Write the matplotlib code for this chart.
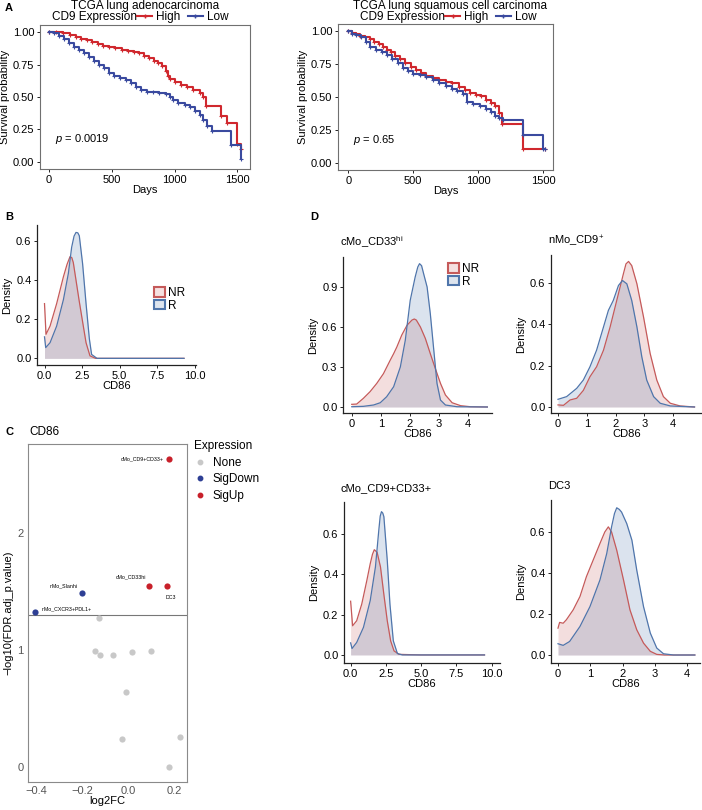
import matplotlib
matplotlib.use("Agg")
import matplotlib.pyplot as plt
from matplotlib.lines import Line2D
from matplotlib.patches import Patch
import numpy as np

plt.rcParams['font.family'] = ['Liberation Sans', 'DejaVu Sans']
plt.rcParams['mathtext.fontset'] = 'custom'
plt.rcParams['mathtext.rm'] = 'Liberation Sans'
plt.rcParams['mathtext.it'] = 'Liberation Sans:italic'

# ---------------- data ----------------
# A: Kaplan-Meier, TCGA LUAD
luad_high_t = [0, 60, 110, 170, 220, 260, 300, 340, 390, 430, 480, 530, 580, 630, 680, 720, 760, 800,
               840, 870, 900, 930, 950, 965, 1000, 1050, 1100, 1150, 1200, 1230, 1250, 1370, 1420, 1500, 1530]
luad_high_s = [1.0, 1.0, 0.99, 0.98, 0.965, 0.95, 0.935, 0.92, 0.905, 0.895, 0.885, 0.875, 0.865, 0.855,
               0.845, 0.835, 0.815, 0.80, 0.78, 0.76, 0.735, 0.70, 0.665, 0.635, 0.615, 0.595, 0.575, 0.555,
               0.53, 0.50, 0.43, 0.35, 0.30, 0.14, 0.10]
luad_low_t = [0, 40, 80, 120, 160, 200, 240, 280, 320, 360, 400, 440, 480, 520, 570, 610, 650, 690, 730,
              780, 830, 880, 930, 960, 990, 1030, 1080, 1120, 1160, 1200, 1230, 1260, 1300, 1445, 1525]
luad_low_s = [1.0, 0.99, 0.97, 0.945, 0.915, 0.885, 0.86, 0.835, 0.81, 0.78, 0.75, 0.72, 0.685, 0.665,
              0.65, 0.63, 0.605, 0.58, 0.555, 0.54, 0.535, 0.53, 0.52, 0.50, 0.48, 0.455, 0.435, 0.42,
              0.39, 0.36, 0.32, 0.28, 0.235, 0.13, 0.02]
# A: Kaplan-Meier, TCGA LUSC
lusc_high_t = [0, 30, 60, 90, 130, 170, 200, 240, 270, 300, 330, 360, 400, 440, 480, 520, 560, 600, 650,
               700, 750, 800, 850, 900, 940, 980, 1020, 1060, 1100, 1130, 1160, 1180, 1345, 1510]
lusc_high_s = [1.0, 0.985, 0.975, 0.965, 0.955, 0.94, 0.92, 0.90, 0.88, 0.86, 0.84, 0.81, 0.785, 0.76,
               0.73, 0.705, 0.68, 0.66, 0.645, 0.63, 0.615, 0.605, 0.58, 0.555, 0.53, 0.515, 0.505, 0.48,
               0.455, 0.43, 0.38, 0.30, 0.11, 0.11]
lusc_low_t = [0, 30, 60, 100, 140, 170, 210, 260, 300, 340, 380, 420, 460, 500, 550, 600, 650, 700, 750,
              800, 840, 880, 910, 960, 1010, 1060, 1100, 1130, 1160, 1190, 1345, 1500, 1510]
lusc_low_s = [1.0, 0.98, 0.97, 0.955, 0.92, 0.88, 0.86, 0.845, 0.82, 0.79, 0.755, 0.72, 0.695, 0.675,
              0.665, 0.65, 0.63, 0.61, 0.585, 0.565, 0.545, 0.52, 0.465, 0.445, 0.43, 0.41, 0.385, 0.36,
              0.345, 0.33, 0.21, 0.105, 0.105]

# B: CD86 density (all cells)
b_nr_x = [0, 0.1, 0.37, 0.81, 1.26, 1.5, 1.7, 1.82, 1.92, 2.14, 2.3, 2.48, 2.77, 3.03, 3.4, 5.0, 7.5, 9.3]
b_nr_y = [0.28, 0.123, 0.165, 0.28, 0.417, 0.48, 0.52, 0.515, 0.49, 0.38, 0.3, 0.215, 0.08, 0.013, 0.0,
          0.0, 0.0, 0.0]
b_r_x = [0, 0.08, 0.37, 0.81, 1.26, 1.59, 1.81, 1.97, 2.1, 2.22, 2.32, 2.54, 2.77, 2.99, 3.14, 3.5,
         5.0, 7.5, 9.3]
b_r_y = [0.11, 0.055, 0.08, 0.165, 0.3, 0.434, 0.568, 0.625, 0.644, 0.642, 0.627, 0.484, 0.28, 0.1, 0.02,
         0.0, 0.0, 0.0, 0.0]

# C: volcano
c_fc = [0.18, 0.091, 0.17, -0.199, -0.404, -0.126, -0.143, -0.122, -0.065, 0.017, 0.099, -0.009, -0.025, 0.225, 0.178]
c_p = [2.63, 1.545, 1.545, 1.487, 1.327, 1.27, 0.99, 0.96, 0.96, 0.98, 0.99, 0.64, 0.24, 0.26, 0.0]
c_grp = ['SigUp', 'SigUp', 'SigUp', 'SigDown', 'SigDown'] + ['None'] * 10
c_lab = ['cMo_CD9+CD33+', 'cMo_CD33hi', 'DC3', 'nMo_Slanhi', 'nMo_CXCR3+PDL1+'] + [''] * 10

# D: CD86 density per subset
tl_nr_x = [0, 0.17, 0.4, 0.63, 0.86, 1.09, 1.32, 1.44, 1.55, 1.72, 1.9, 2.07, 2.15, 2.22, 2.36, 2.53,
           2.7, 2.87, 3.05, 3.22, 3.45, 3.74, 4.08, 4.66]
tl_nr_y = [0.02, 0.022, 0.065, 0.115, 0.177, 0.25, 0.35, 0.4, 0.45, 0.54, 0.613, 0.652, 0.66, 0.652, 0.6,
           0.514, 0.4, 0.29, 0.177, 0.09, 0.032, 0.01, 0.002, 0.0]
tl_r_x = [0, 0.4, 0.75, 0.98, 1.2, 1.44, 1.67, 1.84, 2.01, 2.18, 2.27, 2.33, 2.4, 2.47, 2.59, 2.7, 2.82,
          2.93, 3.05, 3.22, 3.62, 4.66]
tl_r_y = [0.002, 0.005, 0.015, 0.032, 0.077, 0.152, 0.3, 0.5, 0.8, 0.975, 1.05, 1.075, 1.06, 1.0, 0.9,
          0.7, 0.426, 0.177, 0.052, 0.015, 0.002, 0.0]

tr_nr_x = [0, 0.19, 0.42, 0.65, 0.88, 1.11, 1.34, 1.58, 1.81, 2.04, 2.27, 2.36, 2.45, 2.56, 2.74, 2.97,
           3.2, 3.43, 3.66, 3.9, 4.24, 4.74]
tr_nr_y = [0.01, 0.008, 0.034, 0.042, 0.08, 0.146, 0.194, 0.274, 0.386, 0.514, 0.642, 0.69, 0.702, 0.682,
           0.594, 0.434, 0.258, 0.13, 0.05, 0.018, 0.005, 0.0]
tr_r_x = [0, 0.3, 0.65, 0.88, 1.11, 1.34, 1.58, 1.75, 1.92, 2.1, 2.24, 2.39, 2.56, 2.74, 2.91, 3.08,
          3.32, 3.55, 3.9, 4.74]
tr_r_y = [0.037, 0.05, 0.09, 0.13, 0.194, 0.274, 0.386, 0.466, 0.514, 0.586, 0.61, 0.594, 0.514, 0.386,
          0.242, 0.13, 0.05, 0.018, 0.005, 0.0]

bl_nr_x = [0, 0.14, 0.43, 0.79, 1.15, 1.39, 1.55, 1.68, 1.88, 2.12, 2.36, 2.6, 2.84, 3.08, 3.44, 5.0,
           7.5, 9.5]
bl_nr_y = [0.267, 0.145, 0.17, 0.253, 0.37, 0.453, 0.5, 0.523, 0.51, 0.437, 0.30, 0.17, 0.07, 0.02,
           0.003, 0.0, 0.0, 0.0]
bl_r_x = [0, 0.1, 0.43, 0.91, 1.39, 1.76, 2.0, 2.1, 2.19, 2.28, 2.36, 2.6, 2.79, 3.03, 3.32, 3.68, 5.0,
          7.5, 9.5]
bl_r_y = [0.06, 0.032, 0.062, 0.137, 0.27, 0.437, 0.62, 0.69, 0.712, 0.705, 0.687, 0.47, 0.253, 0.07,
          0.007, 0.0, 0.0, 0.0, 0.0]

br_nr_x = [0, 0.05, 0.16, 0.26, 0.47, 0.68, 0.88, 1.09, 1.3, 1.45, 1.56, 1.66, 1.82, 2.03, 2.23, 2.44,
           2.65, 2.86, 3.06, 3.3, 4.24]
br_nr_y = [0.131, 0.159, 0.155, 0.172, 0.22, 0.285, 0.382, 0.463, 0.544, 0.6, 0.625, 0.6, 0.511, 0.366,
           0.22, 0.123, 0.058, 0.018, 0.003, 0.0, 0.0]
br_r_x = [0, 0.16, 0.36, 0.68, 0.99, 1.3, 1.51, 1.66, 1.75, 1.82, 1.9, 1.97, 2.13, 2.29, 2.44, 2.65,
          2.86, 3.06, 3.27, 3.58, 4.24]
br_r_y = [0.055, 0.047, 0.066, 0.139, 0.236, 0.366, 0.495, 0.625, 0.69, 0.718, 0.71, 0.697, 0.641, 0.56,
          0.414, 0.236, 0.107, 0.034, 0.006, 0.0, 0.0]

# ---------------- style ----------------
W, H = 702, 810
RED_KM, BLUE_KM = '#D0282E', '#3A4A9F'
NR_C, R_C = '#C55A5A', '#4F75AB'
PT_C = {'None': '#C8C8C8', 'SigDown': '#2E3F94', 'SigUp': '#C8202A'}
FS = 8

fig = plt.figure(figsize=(W / 100, H / 100), dpi=100)


def px_axes(x0, y0, x1, y1):
    return fig.add_axes([x0 / W, 1 - y1 / H, (x1 - x0) / W, (y1 - y0) / H])


def ftext(x, y, s, **kw):
    fig.text(x / W, 1 - y / H, s, **kw)


def km_panel(rect, title, ht, hs, lt, ls, ptxt, xlim, ylim, title_x, leg_x):
    ax = px_axes(*rect)
    ax.plot(ht, hs, drawstyle='steps-post', color=RED_KM, lw=1.5, marker='+', ms=3.5, mew=0.8)
    ax.plot(lt, ls, drawstyle='steps-post', color=BLUE_KM, lw=1.5, marker='+', ms=3.5, mew=0.8)
    ax.set_xlim(*xlim)
    ax.set_ylim(*ylim)
    ax.set_xticks([0, 500, 1000, 1500])
    ax.set_yticks([0, 0.25, 0.5, 0.75, 1.0])
    ax.set_yticklabels(['0.00', '0.25', '0.50', '0.75', '1.00'])
    for sp in ax.spines.values():
        sp.set_color('#707070')
        sp.set_linewidth(0.8)
    ax.tick_params(labelsize=FS, length=2.5, width=0.6, pad=1.5)
    ax.set_ylabel('Survival probability', fontsize=FS, labelpad=2)
    ax.set_xlabel('Days', fontsize=FS, labelpad=0)
    ax.text(0.07, 0.205, ptxt, transform=ax.transAxes, fontsize=FS, ha='left', va='center')
    ftext(title_x, 6, title, fontsize=8.5, ha='center', va='center')
    ftext(leg_x, 17, 'CD9 Expression', fontsize=8.5, ha='right', va='center')
    hs_ = [Line2D([], [], color=RED_KM, lw=1.5, marker='+', ms=3.5),
           Line2D([], [], color=BLUE_KM, lw=1.5, marker='+', ms=3.5)]
    fig.legend(hs_, ['High', 'Low'], loc='center left', bbox_to_anchor=(leg_x / W, 1 - 17 / H),
               ncol=2, frameon=False, fontsize=8.5, handlelength=1.3, handletextpad=0.35,
               columnspacing=0.6, borderpad=0, borderaxespad=0)
    return ax


km_panel((40, 25, 250, 169), 'TCGA lung adenocarcinoma', luad_high_t, luad_high_s, luad_low_t,
         luad_low_s, '$p$ = 0.0019', (-70, 1600), (-0.054, 1.054), 145, 137)
km_panel((338, 24, 553, 170), 'TCGA lung squamous cell carcinoma', lusc_high_t, lusc_high_s, lusc_low_t,
         lusc_low_s, '$p$ = 0.65', (-79, 1575), (-0.051, 1.053), 450, 445)


def dens_panel(rect, nrx, nry, rx, ry, xlim, ylim, xticks, yticks, xfmt, title=None):
    ax = px_axes(*rect)
    ax.fill_between(nrx, nry, color=NR_C, alpha=0.2, lw=0)
    ax.fill_between(rx, ry, color=R_C, alpha=0.2, lw=0)
    ax.plot(nrx, nry, color=NR_C, lw=0.9)
    ax.plot(rx, ry, color=R_C, lw=0.9)
    ax.set_xlim(*xlim)
    ax.set_ylim(*ylim)
    ax.set_xticks(xticks)
    ax.set_xticklabels([xfmt.format(v) for v in xticks])
    ax.set_yticks(yticks)
    ax.set_yticklabels(['{:.1f}'.format(v) for v in yticks])
    ax.spines['top'].set_visible(False)
    ax.spines['right'].set_visible(False)
    for s in ('left', 'bottom'):
        ax.spines[s].set_color('#222222')
        ax.spines[s].set_linewidth(0.9)
    ax.tick_params(labelsize=FS, length=2.5, width=0.6, pad=1.5)
    ax.set_xlabel('CD86', fontsize=FS, labelpad=0)
    ax.set_ylabel('Density', fontsize=FS, labelpad=3)
    if title:
        ax.set_title(title, fontsize=FS, loc='left', x=-0.02, pad=8)
    return ax


def nr_r_legend(x, y):
    hh = [Patch(facecolor='#F5E0E0', edgecolor=NR_C, lw=1.5),
          Patch(facecolor='#DDE4EE', edgecolor=R_C, lw=1.5)]
    fig.legend(hh, ['NR', 'R'], loc='upper left', bbox_to_anchor=(x / W, 1 - y / H), frameon=False,
               fontsize=8.5, handlelength=0.9, handleheight=0.9, handletextpad=0.3, labelspacing=0.05,
               borderpad=0, borderaxespad=0)


# B
dens_panel((37, 225, 196, 365), b_nr_x, b_nr_y, b_r_x, b_r_y, (-0.5, 10.1), (-0.034, 0.682),
           [0, 2.5, 5, 7.5, 10], [0, 0.2, 0.4, 0.6], '{:.1f}')
nr_r_legend(154, 287)

# C
axc = px_axes(28, 444, 187, 782)
for g in ['None', 'SigDown', 'SigUp']:
    xs = [f for f, k in zip(c_fc, c_grp) if k == g]
    ys = [p for p, k in zip(c_p, c_grp) if k == g]
    axc.scatter(xs, ys, s=20, color=PT_C[g], lw=0, label=g, zorder=3)
axc.axhline(-np.log10(0.05), color='#777777', lw=0.8, zorder=1)
offs = {'cMo_CD9+CD33+': ((-4, 0), 'right'), 'cMo_CD33hi': ((-13, 6.5), 'center'),
        'DC3': ((3, -8), 'center'), 'nMo_Slanhi': ((-13, 5), 'center'),
        'nMo_CXCR3+PDL1+': ((5, 2), 'left')}
for f, p, lab in zip(c_fc, c_p, c_lab):
    if lab:
        o, ha = offs[lab]
        axc.annotate(lab, (f, p), xytext=o, textcoords='offset points', fontsize=3.8, ha=ha, va='center')
axc.set_xlim(-0.435, 0.257)
axc.set_ylim(-0.128, 2.76)
axc.set_xticks([-0.4, -0.2, 0.0, 0.2])
axc.set_xticklabels(['\u22120.4', '\u22120.2', '0.0', '0.2'])
axc.set_yticks([0, 1, 2])
for sp in axc.spines.values():
    sp.set_color('#8A8A8A')
    sp.set_linewidth(0.8)
axc.tick_params(labelsize=FS, length=0, pad=3, colors='#555555')
axc.set_xlabel('log2FC', fontsize=FS, labelpad=0)
axc.set_ylabel('\u2212log10(FDR.adj_p.value)', fontsize=FS, labelpad=3)
lh = [Line2D([], [], ls='', marker='o', ms=3.2, color=PT_C[g]) for g in ['None', 'SigDown', 'SigUp']]
fig.legend(lh, ['None', 'SigDown', 'SigUp'], title='Expression', loc='upper left',
           bbox_to_anchor=(194 / W, 1 - 440 / H), frameon=False, fontsize=8.5, title_fontsize=8.5,
           handlelength=1.0, handletextpad=0.6, labelspacing=0.4, borderpad=0, borderaxespad=0,
           alignment='left')

# D
dens_panel((343, 257, 492, 413), tl_nr_x, tl_nr_y, tl_r_x, tl_r_y, (-0.3, 4.82), (-0.045, 1.125),
           [0, 1, 2, 3, 4], [0, 0.3, 0.6, 0.9], '{:g}', r'cMo_CD33$^{\mathrm{hi}}$')
nr_r_legend(448, 263)
dens_panel((551, 255, 702, 413), tr_nr_x, tr_nr_y, tr_r_x, tr_r_y, (-0.243, 5.0), (-0.029, 0.733),
           [0, 1, 2, 3, 4], [0, 0.2, 0.4, 0.6], '{:g}', r'nMo_CD9$^{\mathrm{+}}$')
dens_panel((344, 502, 500, 663), bl_nr_x, bl_nr_y, bl_r_x, bl_r_y, (-0.47, 10.6), (-0.04, 0.76),
           [0, 2.5, 5, 7.5, 10], [0, 0.2, 0.4, 0.6], '{:.1f}', 'cMo_CD9+CD33+')
dens_panel((551, 500, 700, 663), br_nr_x, br_nr_y, br_r_x, br_r_y, (-0.217, 4.4), (-0.039, 0.756),
           [0, 1, 2, 3, 4], [0, 0.2, 0.4, 0.6], '{:g}', 'DC3')

# panel letters
for lt, x, y in [('A', 5, 8), ('B', 5, 217), ('C', 5, 432), ('D', 310, 217)]:
    ftext(x, y, lt, fontsize=8, fontweight='bold', ha='left', va='center')
ftext(29, 432, 'CD86', fontsize=8.5, ha='left', va='center')

fig.savefig('out.png', dpi=100)
